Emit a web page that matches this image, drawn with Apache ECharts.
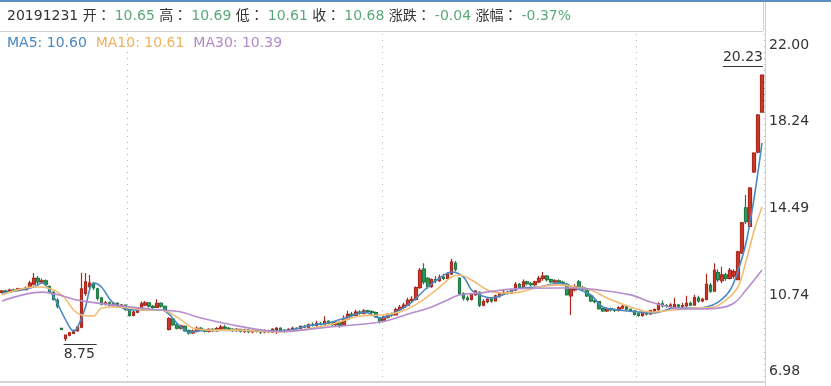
<!DOCTYPE html>
<html><head><meta charset="utf-8">
<script src="https://cdn.jsdelivr.net/npm/echarts@6/dist/echarts.min.js"></script>
<style>html,body{margin:0;padding:0;background:#fff}#c{width:831px;height:386px}</style>
</head><body><div id="c"></div>
<script>
// ---------------- data ----------------
const openP = [
10.85,10.90,10.88,10.95,10.92,11.00,10.97,11.05,11.20,11.45,
11.30,11.35,11.10,10.85,10.50,9.30,8.85,9.00,9.08,9.20,
9.35,10.80,11.10,11.20,11.00,10.60,10.35,10.40,10.30,10.38,
10.25,10.30,10.10,9.85,10.00,10.15,10.30,10.40,10.25,10.20,
10.38,10.25,9.25,9.70,9.45,9.30,9.38,9.20,9.10,9.18,
9.30,9.22,9.18,9.25,9.20,9.28,9.35,9.30,9.25,9.22,
9.25,9.18,9.22,9.15,9.20,9.17,9.14,9.20,9.15,9.25,
9.30,9.22,9.18,9.25,9.30,9.28,9.38,9.35,9.45,9.42,
9.50,9.48,9.60,9.52,9.45,9.55,9.45,9.70,9.90,9.85,
10.00,9.95,10.05,10.02,9.98,9.75,9.62,9.78,9.90,9.88,
10.10,10.20,10.30,10.50,10.55,11.05,11.85,11.45,11.10,11.40,
11.35,11.50,11.45,11.65,12.10,11.45,10.80,10.60,10.55,10.75,
10.85,10.30,10.45,10.55,10.48,10.70,10.80,10.85,10.82,10.95,
11.20,11.05,11.30,11.22,11.18,11.30,11.45,11.55,11.40,11.30,
11.35,11.28,11.20,10.70,10.95,11.30,11.05,11.00,10.70,10.48,
10.45,10.15,10.05,10.15,10.10,10.08,10.18,10.22,10.12,10.05,
9.92,9.85,9.95,9.92,10.05,10.10,10.35,10.28,10.25,10.22,
10.30,10.25,10.28,10.38,10.30,10.60,10.48,10.55,11.15,10.90,
11.70,11.35,11.60,11.45,11.55,11.40,12.55,14.50,13.70,16.05,
16.90,18.63];
const closeP = [
10.90,10.88,10.95,10.92,11.00,10.97,11.05,11.25,11.45,11.30,
11.35,11.20,10.85,10.55,10.25,9.25,9.00,9.10,9.20,9.35,
11.00,11.30,11.25,11.05,10.60,10.35,10.40,10.30,10.38,10.25,
10.30,10.10,9.85,10.00,10.15,10.35,10.40,10.25,10.20,10.38,
10.25,10.10,9.72,9.45,9.30,9.40,9.20,9.10,9.18,9.30,
9.22,9.18,9.25,9.20,9.28,9.35,9.30,9.25,9.22,9.25,
9.18,9.22,9.15,9.20,9.17,9.14,9.20,9.15,9.25,9.30,
9.22,9.18,9.25,9.30,9.28,9.38,9.35,9.45,9.42,9.50,
9.48,9.60,9.52,9.45,9.55,9.42,9.70,9.90,9.85,10.00,
9.95,10.05,10.02,9.98,9.80,9.62,9.78,9.90,9.88,10.10,
10.20,10.30,10.50,10.55,11.05,11.80,11.30,11.10,11.40,11.35,
11.50,11.45,11.65,12.15,11.85,10.80,10.60,10.55,10.75,10.90,
10.30,10.45,10.55,10.48,10.70,10.80,10.85,10.82,10.95,11.20,
11.05,11.30,11.22,11.18,11.30,11.45,11.55,11.40,11.30,11.35,
11.28,11.20,10.75,11.00,11.10,11.05,11.00,10.70,10.48,10.45,
10.15,10.05,10.15,10.10,10.08,10.18,10.25,10.12,10.05,9.90,
9.85,9.95,9.92,10.05,10.10,10.35,10.28,10.25,10.30,10.32,
10.25,10.28,10.38,10.30,10.62,10.48,10.55,11.20,10.90,11.80,
11.40,11.60,11.45,11.80,11.75,12.60,13.85,13.90,15.35,16.86,
18.50,20.23];
const lowP = [
10.80,10.84,10.85,10.88,10.90,10.92,10.95,11.02,11.15,11.20,
11.22,11.12,10.80,10.50,10.15,9.22,8.75,8.95,9.05,9.15,
9.30,10.70,11.00,10.95,10.50,10.28,10.28,10.25,10.22,10.20,
10.18,10.05,9.80,9.82,9.95,10.10,10.25,10.20,10.12,10.18,
10.18,10.05,9.20,9.40,9.25,9.25,9.15,9.02,9.05,9.12,
9.18,9.12,9.12,9.15,9.15,9.22,9.25,9.20,9.15,9.15,
9.12,9.10,9.10,9.08,9.12,9.05,9.08,9.10,9.10,9.05,
9.18,9.12,9.15,9.20,9.22,9.25,9.30,9.30,9.38,9.38,
9.42,9.45,9.48,9.40,9.40,9.32,9.42,9.65,9.78,9.80,
9.88,9.90,9.95,9.92,9.75,9.50,9.58,9.72,9.80,9.85,
10.05,10.12,10.25,10.42,10.50,11.00,11.20,11.00,11.05,11.25,
11.30,11.38,11.40,11.60,11.75,10.72,10.50,10.45,10.50,10.70,
10.22,10.25,10.38,10.40,10.45,10.62,10.75,10.76,10.78,10.90,
11.00,11.00,11.15,11.10,11.12,11.25,11.35,11.32,11.25,11.22,
11.20,11.12,10.70,9.87,10.90,11.00,10.92,10.65,10.42,10.38,
10.10,10.00,10.00,10.02,10.00,10.02,10.12,10.05,10.00,9.85,
9.80,9.80,9.85,9.88,10.00,10.05,10.20,10.18,10.20,10.12,
10.18,10.18,10.22,10.25,10.28,10.40,10.42,10.50,10.82,10.88,
11.30,11.25,11.35,11.40,11.45,11.38,12.50,13.80,13.65,16.00,
16.85,18.60];
const highP = [
10.95,10.96,11.00,11.00,11.05,11.04,11.10,11.35,11.68,11.55,
11.45,11.40,11.15,10.90,10.60,9.32,9.02,9.15,9.25,9.40,
11.70,11.68,11.60,11.30,11.05,10.65,10.48,10.45,10.42,10.42,
10.35,10.32,10.12,10.05,10.20,10.45,10.48,10.42,10.30,10.55,
10.42,10.28,9.78,9.75,9.50,9.45,9.42,9.25,9.25,9.38,
9.35,9.28,9.30,9.30,9.35,9.45,9.45,9.35,9.30,9.30,
9.28,9.28,9.26,9.25,9.24,9.22,9.26,9.24,9.30,9.35,
9.34,9.26,9.30,9.36,9.34,9.42,9.45,9.50,9.55,9.62,
9.58,9.82,9.65,9.58,9.60,9.58,9.85,10.05,10.00,10.10,
10.08,10.12,10.10,10.08,10.02,9.80,9.85,9.95,9.98,10.18,
10.30,10.40,10.62,10.68,11.10,11.90,12.10,11.50,11.45,11.55,
11.62,11.65,11.72,12.30,12.20,11.50,10.85,10.70,10.80,10.95,
10.90,10.55,10.60,10.62,10.75,10.85,10.95,10.92,11.00,11.30,
11.25,11.40,11.35,11.30,11.35,11.55,11.73,11.60,11.45,11.42,
11.40,11.35,11.25,11.05,11.20,11.38,11.12,11.05,10.75,10.55,
10.48,10.20,10.20,10.20,10.15,10.25,10.30,10.26,10.15,10.08,
10.00,10.00,10.00,10.10,10.15,10.42,10.50,10.35,10.38,10.62,
10.35,10.40,10.70,10.45,10.75,10.70,10.62,11.65,11.25,12.10,
11.85,11.95,11.70,11.90,11.85,12.65,13.90,15.05,15.40,16.90,
18.55,20.23];
// moving averages: [candle index, value]
const ma5 = [[0,10.82],[8,11.08],[10,11.25],[13,10.65],[16,9.66],[18,9.18],[19,9.35],[21,10.22],[22,10.95],[23,11.25],[25,11.08],[28,10.39],[33,10.09],[37,10.09],[40,10.09],[45,9.35],[47,9.14],[52,9.22],[70,9.18],[78,9.44],[82,9.53],[87,9.78],[91,10.0],[95,9.74],[99,10.0],[103,10.43],[107,11.08],[110,11.47],[113,11.73],[116,11.51],[118,10.95],[120,10.74],[123,10.61],[127,10.82],[130,11.04],[135,11.08],[140,11.25],[144,11.04],[148,10.74],[151,10.22],[155,10.09],[160,10.0],[164,9.96],[169,10.17],[173,10.17],[177,10.22],[180,10.43],[183,10.95],[185,11.8],[187,13.0],[189,14.9],[191,17.3]];
const ma10 = [[0,10.74],[8,11.08],[10,11.08],[15,10.74],[18,10.09],[20,9.87],[23,9.83],[25,10.17],[28,10.22],[33,10.17],[35,10.09],[40,10.09],[45,9.66],[48,9.31],[53,9.22],[58,9.22],[70,9.14],[82,9.44],[90,9.83],[95,9.87],[100,10.0],[105,10.43],[110,11.08],[113,11.51],[115,11.60],[118,11.38],[122,10.95],[125,10.82],[130,10.86],[135,11.08],[140,11.17],[144,11.08],[148,10.95],[152,10.61],[158,10.22],[163,10.0],[169,10.09],[174,10.17],[179,10.22],[182,10.52],[185,11.1],[187,12.2],[189,13.5],[191,14.53]];
const ma30 = [[0,10.48],[10,10.86],[20,10.48],[35,10.17],[40,10.09],[45,10.0],[50,9.74],[58,9.44],[67,9.18],[70,9.16],[82,9.35],[95,9.57],[103,9.96],[108,10.22],[112,10.52],[115,10.74],[120,10.82],[128,10.99],[140,11.04],[144,11.04],[150,10.95],[158,10.74],[163,10.43],[169,10.17],[173,10.13],[180,10.17],[184,10.39],[187,10.95],[191,11.81]];
const yTickLabels = ['6.98','10.74','14.49','18.24','22.00'];
const xGridIdx = [32, 96, 160];
const headerDate = '20191231';
const headerFields = [['开','10.65'],['高','10.69'],['低','10.61'],['收','10.68'],['涨跌','-0.04'],['涨幅','-0.37%']];
const maLegend = [['MA5','10.60'],['MA10','10.61'],['MA30','10.39']];
const categories = openP.map((_, i) => String(i + 1));

// ---------------- chart ----------------
const F = "'DejaVu Sans','Noto Sans CJK SC',sans-serif";
const FH = "'DejaVu Sans','Noto Sans CJK TC',sans-serif";
const C_UP = '#d2392b', C_DN = '#2f9a5c';
const C_MA = ['#4a89c3', '#f2bc72', '#b68ecf'];
const C_MA_TXT = ['#4a86bf', '#efb25e', '#b08ac8'];
const yMin = 6.98, yMax = 22.0, yInt = (yMax - yMin) / 4;

const kData = openP.map((o, i) => [o, closeP[i], lowP[i], highP[i]]);

let headerText = '{k|' + headerDate + ' }';
headerFields.forEach(([k, v], i) => {
  headerText += '{k|' + k + '：}{v|' + v + '}' + (i < headerFields.length - 1 ? '{k| }' : '');
});
let legendText = '';
maLegend.forEach(([k, v], i) => {
  legendText += '{m' + i + '|' + k + ': ' + v + '}' + (i < maLegend.length - 1 ? '{m0|  }' : '');
});

const chart = echarts.init(document.getElementById('c'), null, {renderer: 'canvas'});
chart.setOption({
  animation: false,
  backgroundColor: '#fff',
  grid: {left: 0, right: 67, top: 34, bottom: 4, containLabel: false},
  xAxis: {
    type: 'category', data: categories, boundaryGap: true,
    axisLine: {show: true, lineStyle: {color: '#d4d4d4', width: 2}},
    axisTick: {show: false}, axisLabel: {show: false},
    splitLine: {show: true, interval: (idx) => xGridIdx.includes(idx),
      lineStyle: {type: [1, 5], color: '#b4b4b4', width: 1}}
  },
  yAxis: {
    type: 'value', position: 'right', min: yMin, max: yMax, interval: yInt, scale: true,
    axisLine: {show: false}, axisTick: {show: false}, splitLine: {show: false},
    axisLabel: {
      margin: 5, color: '#333', fontSize: 14, fontFamily: F,
      formatter: (v) => {
        const k = Math.round((v - yMin) / yInt);
        const t = yTickLabels[k];
        if (k === 4) return '{t|' + t + '}';
        if (k === 0) return '{b|' + t + '}';
        return '{m|' + t + '}';
      },
      rich: {
        t: {padding: [22, 0, 0, 0], color: '#333', fontSize: 14, fontFamily: F},
        b: {padding: [0, 0, 22, 0], color: '#333', fontSize: 14, fontFamily: F},
        m: {color: '#333', fontSize: 14, fontFamily: F}
      }
    }
  },
  series: [
    {
      type: 'candlestick', data: kData, barWidth: 3, z: 2,
      itemStyle: {color: C_UP, color0: C_DN, borderColor: '#aa281c', borderColor0: '#217a45', borderWidth: 1.2},
      markPoint: {
        symbol: 'circle', symbolSize: 0, animation: false,
        data: [
          {type: 'max', valueDim: 'highest',
            label: {show: true, position: [0, 0], align: 'right', verticalAlign: 'bottom', offset: [1, -8],
              formatter: (p) => '{v|' + Number(p.value).toFixed(2) + '}\n{u| }',
              rich: {v: {fontSize: 14, fontFamily: F, color: '#333', lineHeight: 17},
                     u: {width: 40, height: 1, lineHeight: 1, fontSize: 1, backgroundColor: '#333'}}}},
          {type: 'min', valueDim: 'lowest',
            label: {show: true, position: [0, 0], align: 'left', verticalAlign: 'top', offset: [-2, 3],
              formatter: (p) => '{u| }\n{v|' + Number(p.value).toFixed(2) + '}',
              rich: {v: {fontSize: 14, fontFamily: F, color: '#333', lineHeight: 18},
                     u: {width: 33, height: 1, lineHeight: 1, fontSize: 1, backgroundColor: '#333'}}}}
        ]
      }
    },
    {type: 'line', name: 'MA5', data: ma5, smooth: 0.35, showSymbol: false, z: 3,
      lineStyle: {color: C_MA[0], width: 1.6}},
    {type: 'line', name: 'MA10', data: ma10, smooth: 0.35, showSymbol: false, z: 3,
      lineStyle: {color: C_MA[1], width: 1.6}},
    {type: 'line', name: 'MA30', data: ma30, smooth: 0.35, showSymbol: false, z: 3,
      lineStyle: {color: C_MA[2], width: 1.6}}
  ],
  graphic: [
    {type: 'rect', shape: {x: 0, y: 0, width: 831, height: 2}, style: {fill: '#5b8fc2'}, silent: true},
    {type: 'line', shape: {x1: 0, y1: 31.5, x2: 763, y2: 31.5}, style: {stroke: '#d0d0d0', lineWidth: 1}, silent: true},
    {type: 'line', shape: {x1: 763.5, y1: 2, x2: 763.5, y2: 31}, style: {stroke: '#d0d0d0', lineWidth: 1}, silent: true},
    {type: 'line', shape: {x1: 765.5, y1: 2, x2: 765.5, y2: 386}, style: {stroke: '#d0d0d0', lineWidth: 1}, silent: true},
    {type: 'text', x: 7, y: 16, silent: true,
      style: {text: headerText, verticalAlign: 'middle', font: '14px ' + FH,
        rich: {k: {fill: '#333', fontSize: 14, fontFamily: FH}, v: {fill: '#5aa978', fontSize: 14, fontFamily: FH, padding: [0, 0, 0, 4]}}}},
    {type: 'text', x: 7, y: 43, silent: true,
      style: {text: legendText, verticalAlign: 'middle', font: '14px ' + F,
        rich: {m0: {fill: C_MA_TXT[0], fontSize: 14, fontFamily: F},
               m1: {fill: C_MA_TXT[1], fontSize: 14, fontFamily: F},
               m2: {fill: C_MA_TXT[2], fontSize: 14, fontFamily: F}}}}
  ]
});
</script>
</body></html>
